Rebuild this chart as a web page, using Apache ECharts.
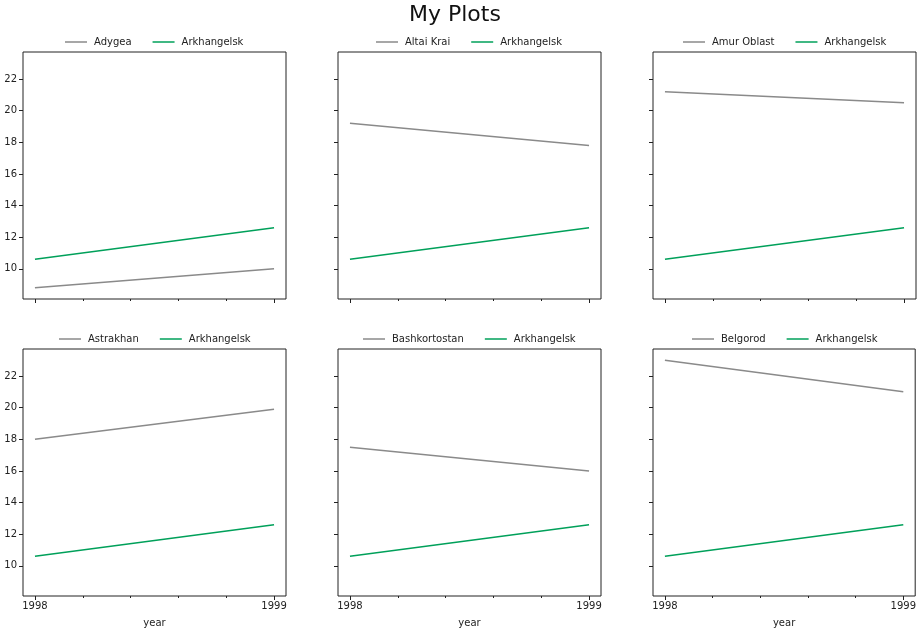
<!DOCTYPE html>
<html>
<head>
<meta charset="utf-8">
<script src="https://cdn.jsdelivr.net/npm/echarts@6/dist/echarts.min.js"></script>
<style>
  html, body { margin: 0; padding: 0; background: #fff; }
  #chart { width: 919px; height: 631px; }
</style>
</head>
<body>
<div id="chart"></div>
<script>
const years = [1998, 1999];
const regions = ["Adygea", "Altai Krai", "Amur Oblast", "Astrakhan", "Bashkortostan", "Belgorod"];
const regionValues = [
  [8.8, 10.0],
  [19.2, 17.8],
  [21.2, 20.5],
  [18.0, 19.9],
  [17.5, 16.0],
  [23.0, 21.0],
];
const arkhangelsk = [10.6, 12.6];
const yTicks = [10, 12, 14, 16, 18, 20, 22];
const xMinorTicks = [1998.2, 1998.4, 1998.6, 1998.8];

const font = "DejaVu Sans";
const grayColor = "#8a8a8a";
const greenColor = "#00a05a";

const lefts = [23, 338, 653];
const tops = [52, 349];
const w = 263, h = 247;

// measure legend text so each legend can be centred over its panel
const ctx = document.createElement("canvas").getContext("2d");
ctx.font = "10px " + font;
const iconW = 22, textGap = 7, itemGap = 21;
function legendWidth(names) {
  let total = 0;
  names.forEach((n, k) => {
    total += iconW + textGap + ctx.measureText(n).width;
    if (k > 0) total += itemGap;
  });
  return total;
}

const grids = [], xAxes = [], yAxes = [], series = [], legends = [];

regions.forEach((name, i) => {
  const col = i % 3, row = Math.floor(i / 3);
  const bottomRow = row === 1;
  grids.push({
    left: lefts[col], top: tops[row], width: w, height: h,
    show: true, borderColor: "#222", borderWidth: 1, backgroundColor: "transparent"
  });

  // major x ticks
  xAxes.push({
    type: "value", gridIndex: i, min: 1997.95, max: 1999.05,
    axisLine: { show: false },
    splitLine: { show: false },
    axisTick: { show: true, customValues: years, length: 4, lineStyle: { color: "#222" } },
    axisLabel: {
      show: bottomRow, customValues: years, formatter: v => String(v),
      fontFamily: font, fontSize: 10, color: "#222", margin: 5
    },
    name: bottomRow ? "year" : "",
    nameLocation: "middle", nameGap: 22,
    nameTextStyle: { fontFamily: font, fontSize: 10, color: "#222" }
  });
  // minor x ticks
  xAxes.push({
    type: "value", gridIndex: i, min: 1997.95, max: 1999.05, position: "bottom",
    axisLine: { show: false },
    splitLine: { show: false },
    axisTick: { show: true, customValues: xMinorTicks, length: 2, lineStyle: { color: "#222" } },
    axisLabel: { show: false }
  });

  yAxes.push({
    type: "value", gridIndex: i, min: 8.09, max: 23.71,
    axisLine: { show: false },
    splitLine: { show: false },
    axisTick: { show: true, customValues: yTicks, length: 4, lineStyle: { color: "#222" } },
    axisLabel: {
      show: col === 0, customValues: yTicks,
      fontFamily: font, fontSize: 10, color: "#222", margin: 6
    }
  });

  series.push({
    name: name, type: "line", xAxisIndex: i * 2, yAxisIndex: i,
    symbol: "none", color: grayColor, lineStyle: { width: 1.5, color: grayColor },
    data: years.map((y, k) => [y, regionValues[i][k]])
  });
  series.push({
    name: "Arkhangelsk", type: "line", xAxisIndex: i * 2, yAxisIndex: i,
    symbol: "none", color: greenColor, lineStyle: { width: 1.5, color: greenColor },
    data: years.map((y, k) => [y, arkhangelsk[k]])
  });

  const names = [name, "Arkhangelsk"];
  const lw = legendWidth(names);
  legends.push({
    data: names,
    left: Math.round(lefts[col] + w / 2 - lw / 2), top: tops[row] - 15,
    width: lw + 40,
    orient: "horizontal", padding: 0,
    icon: "rect",
    itemWidth: iconW, itemHeight: 1.5, itemGap: itemGap,
    textStyle: { fontFamily: font, fontSize: 10, color: "#222", padding: [0, 0, 0, 2] },
    selectedMode: false
  });
});

const chart = echarts.init(document.getElementById("chart"));
chart.setOption({
  animation: false,
  title: {
    text: "My Plots", left: 404, top: -1,
    textStyle: { fontFamily: font, fontSize: 22, fontWeight: "normal", color: "#111" }
  },
  legend: legends,
  grid: grids,
  xAxis: xAxes,
  yAxis: yAxes,
  series: series
});
</script>
</body>
</html>
